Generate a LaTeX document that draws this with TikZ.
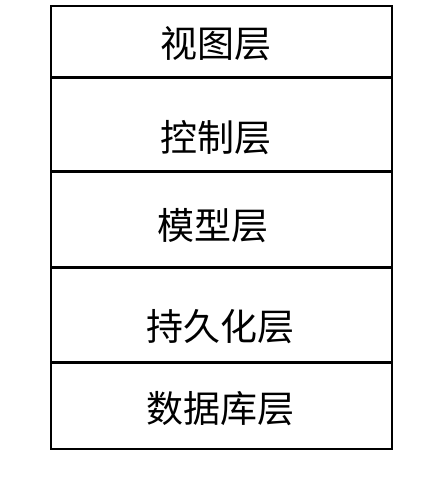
\documentclass[tikz,border=0pt]{standalone}
\usepackage{fontspec}
\newfontfamily\cjk{Noto Sans CJK SC}
\tikzset{x=1pt, y=-1pt,
  layertext/.style={inner sep=0pt, font=\cjk\fontsize{37}{40}\selectfont},
  frame/.style={line width=2pt},
  divider/.style={line width=3pt}}

\begin{document}
\begin{tikzpicture}
  \useasboundingbox (0,0) rectangle (424,487);
  \draw[frame] (51,6) rectangle (392,449);
  \coordinate (d1w) at (51,77);    \coordinate (d1e) at (392,77);
  \coordinate (d2w) at (51,171.5); \coordinate (d2e) at (392,171.5);
  \coordinate (d3w) at (51,267);   \coordinate (d3e) at (392,267);
  \coordinate (d4w) at (51,362);   \coordinate (d4e) at (392,362);
  % thicker lines between the layers
  \draw[divider] (d1w) -- (d1e);
  \draw[divider] (d2w) -- (d2e);
  \draw[divider] (d3w) -- (d3e);
  \draw[divider] (d4w) -- (d4e);
  \node[layertext] (view)    at (215.5,44)  {视图层};
  \node[layertext] (ctrl)    at (216,137.5) {控制层};
  \node[layertext] (model)   at (213,226)   {模型层};
  \node[layertext] (persist) at (220.5,327) {持久化层};
  \node[layertext] (db)      at (220,409)   {数据库层};
\end{tikzpicture}
\end{document}
